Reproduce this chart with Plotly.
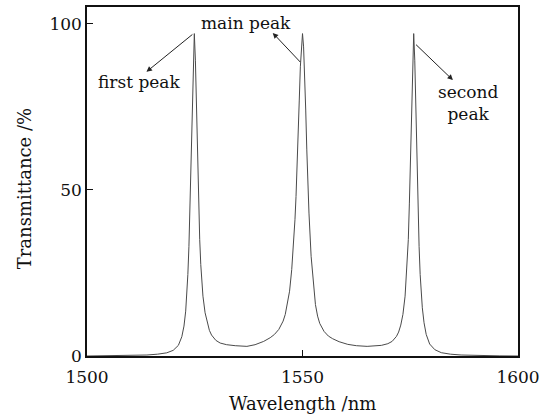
import plotly.graph_objects as go

# Wavelength (nm) sample points
wavelength = [
    1500, 1504.9, 1509.9, 1513.9, 1516.4, 1518.5, 1520.0, 1521.2, 1522.0, 1522.5,
    1522.9, 1523.1, 1523.4, 1523.65, 1523.9, 1524.15, 1524.4, 1524.65, 1524.9,
    1525.15, 1525.4, 1525.65, 1525.9, 1526.15, 1526.4, 1526.9, 1527.4, 1527.9,
    1528.4, 1528.9, 1529.9, 1530.9, 1532.4, 1534.4, 1537.1,
    1539.0, 1541.0, 1542.5, 1543.5, 1544.5, 1545.5, 1546.0, 1546.5, 1547.0,
    1547.5, 1548.0, 1548.25, 1548.5, 1548.75, 1549.0, 1549.25, 1549.5, 1549.75,
    1550.0,
    1550.25, 1550.5, 1550.75, 1551.0, 1551.25, 1551.5, 1552.0, 1552.5, 1553.0,
    1553.5, 1554.0, 1555.0, 1556.0, 1557.0, 1558.5, 1560.5, 1562.5, 1565.0,
    1566.8, 1568.3, 1569.8, 1570.8, 1571.8, 1572.3, 1572.8, 1573.3, 1573.8,
    1574.3, 1574.55, 1574.8, 1575.05, 1575.3, 1575.55, 1575.8,
    1576.05, 1576.3, 1576.55, 1576.8, 1577.05, 1577.3, 1577.6, 1577.8, 1578.2,
    1578.7, 1579.5, 1580.7, 1582.2, 1584.3, 1586.8, 1590.8, 1595.8, 1600,
]

# Transmittance (%) at those points
transmittance = [
    0.0, 0.06, 0.15, 0.3, 0.55, 0.95, 1.7, 3.2, 5.8, 9.0,
    13.5, 17.5, 24.5, 33, 45, 58, 74, 89, 97,
    89, 74, 58, 46, 35, 27.5, 18, 13, 9.8,
    7.7, 6.3, 4.7, 3.9, 3.4, 3.1, 2.9,
    3.4, 4.4, 5.5, 6.5, 8.0, 10.5, 12.5, 15.5, 19.5,
    26, 35, 41, 48, 56, 66, 77, 87, 94,
    97,
    93, 85, 74, 62, 51, 43, 30, 21.5, 15.5,
    12, 9.8, 7.4, 6.0, 5.2, 4.3, 3.5, 3.1, 2.9,
    3.0, 3.2, 3.7, 4.4, 5.9, 7.2, 9.3, 12.5, 18,
    27.5, 35, 46, 58, 74, 89, 97,
    89, 74, 58, 45, 33, 24.5, 18, 14.5, 10,
    6.5, 3.6, 1.9, 1.0, 0.55, 0.3, 0.12, 0.04, 0.0,
]

x_ticks = [1500, 1550, 1600]
y_ticks = [0, 50, 100]
x_title = "Wavelength /nm"
y_title = "Transmittance /%"

FONT = "DejaVu Serif"

fig = go.Figure()
fig.add_trace(go.Scatter(
    x=wavelength, y=transmittance, mode="lines",
    line=dict(color="#4a4a4a", width=1),
    hoverinfo="skip", showlegend=False,
))

arrow_common = dict(showarrow=True, arrowhead=2, arrowsize=1.1, arrowwidth=1,
                    arrowcolor="#222", axref="x", ayref="y", text="")
# arrows: head at (x, y), tail at (ax, ay)
fig.add_annotation(x=1513.8, y=85.5, ax=1524.8, ay=97.1, **arrow_common)
fig.add_annotation(x=1543.1, y=97.2, ax=1549.8, ay=88.0, **arrow_common)
fig.add_annotation(x=1584.9, y=83.0, ax=1576.0, ay=94.1, **arrow_common)

txt_font = dict(family=FONT, size=17, color="#111")
fig.add_annotation(x=1512.2, y=82.5, text="first peak", showarrow=False, font=txt_font)
fig.add_annotation(x=1536.9, y=100.3, text="main peak", showarrow=False, font=txt_font)
fig.add_annotation(x=1588.4, y=76.2, text="second<br>peak", showarrow=False,
                   font=txt_font)

# axis titles placed as paper-referenced text
title_font = dict(family=FONT, size=18, color="#111")
fig.add_annotation(x=0.5, y=-0.1375, xref="paper", yref="paper", text=x_title,
                   showarrow=False, font=title_font, xanchor="center", yanchor="middle")
fig.add_annotation(x=-0.146, y=0.478, xref="paper", yref="paper", text=y_title,
                   showarrow=False, font=title_font, textangle=-90,
                   xanchor="center", yanchor="middle")

fig.update_layout(
    width=544, height=415,
    margin=dict(l=87, r=26, t=7, b=59, autoexpand=False),
    paper_bgcolor="white", plot_bgcolor="white",
    font=dict(family=FONT, size=17, color="#111"),
    xaxis=dict(
        range=[1500, 1600], tickvals=x_ticks, ticktext=[str(v) for v in x_ticks],
        ticks="inside", ticklen=6, tickcolor="#111", tickwidth=1,
        ticklabelstandoff=5, automargin=False,
        showline=True, linecolor="#111", linewidth=1.5, mirror=True,
        showgrid=False, zeroline=False,
    ),
    yaxis=dict(
        range=[0, 105], tickvals=y_ticks, ticktext=[str(v) for v in y_ticks],
        ticks="inside", ticklen=6, tickcolor="#111", tickwidth=1,
        automargin=False,
        showline=True, linecolor="#111", linewidth=1.5, mirror=True,
        showgrid=False, zeroline=False,
    ),
)

fig.write_html("out.html")
